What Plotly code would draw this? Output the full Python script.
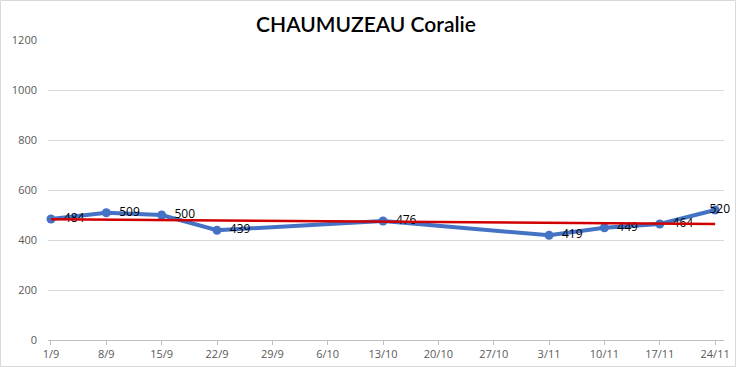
import plotly.graph_objects as go

dates = ["2019-09-01", "2019-09-08", "2019-09-15", "2019-09-22", "2019-10-13",
         "2019-11-03", "2019-11-10", "2019-11-17", "2019-11-24"]
values = [484, 509, 500, 439, 476, 419, 449, 464, 520]
trend_dates = ["2019-09-01", "2019-11-24"]
trend_values = [483, 464]
tick_dates = ["2019-09-01", "2019-09-08", "2019-09-15", "2019-09-22", "2019-09-29",
              "2019-10-06", "2019-10-13", "2019-10-20", "2019-10-27", "2019-11-03",
              "2019-11-10", "2019-11-17", "2019-11-24"]
tick_labels = ["1/9", "8/9", "15/9", "22/9", "29/9", "6/10", "13/10", "20/10",
               "27/10", "3/11", "10/11", "17/11", "24/11"]
title = "CHAUMUZEAU Coralie"

W, H = 736, 367
ml, mr, mt, mb = 48, 12, 40, 27

labels = ["  " + str(v) for v in values]
positions = ["middle right"] * len(values)
labels[-1] = "   " + str(values[-1])
positions[-1] = "middle center"

fig = go.Figure()
fig.add_trace(go.Scatter(
    x=dates, y=values, mode="lines+markers+text",
    text=labels, textposition=positions,
    textfont=dict(family="Open Sans, sans-serif", size=12, color="#000000"),
    line=dict(color="#4472C4", width=4),
    marker=dict(color="#4472C4", size=9),
    cliponaxis=False, showlegend=False,
))
fig.add_trace(go.Scatter(
    x=trend_dates, y=trend_values, mode="lines",
    line=dict(color="#D00000", width=2.5),
    showlegend=False, hoverinfo="skip",
))

pw = W - ml - mr
ph = H - mt - mb
fig.add_shape(type="rect", xref="paper", yref="paper",
              x0=(0.5 - ml) / pw, x1=(W - 0.5 - ml) / pw,
              y0=-(mb - 0.5) / ph, y1=(H - mb - 0.5) / ph,
              line=dict(color="#D9D9D9", width=1), layer="below")

fig.update_layout(
    width=W, height=H,
    margin=dict(l=ml, r=mr, t=mt, b=mb, autoexpand=False),
    paper_bgcolor="white", plot_bgcolor="white",
    title=dict(text=title, x=366 / W, xanchor="center", y=1 - 25 / H, yanchor="middle",
               font=dict(family="Lato, sans-serif", size=21, color="#000000", weight=600)),
    xaxis=dict(
        type="date", automargin=False,
        range=["2019-08-31 15:00", "2019-11-25 03:00"],
        tickvals=tick_dates, ticktext=tick_labels,
        showgrid=False, showline=True, linecolor="#BFBFBF", linewidth=1,
        ticks="outside", ticklen=4, tickcolor="#BFBFBF",
        tickfont=dict(family="Open Sans, sans-serif", size=11, color="#595959"),
        zeroline=False,
    ),
    yaxis=dict(
        automargin=False,
        range=[0, 1200], tickvals=[0, 200, 400, 600, 800, 1000, 1200],
        showgrid=True, gridcolor="#D9D9D9", gridwidth=1,
        showline=False, zeroline=False, ticks="",
        ticklabelstandoff=10,
        tickfont=dict(family="Open Sans, sans-serif", size=11, color="#595959"),
    ),
)

fig.write_html("out.html")
